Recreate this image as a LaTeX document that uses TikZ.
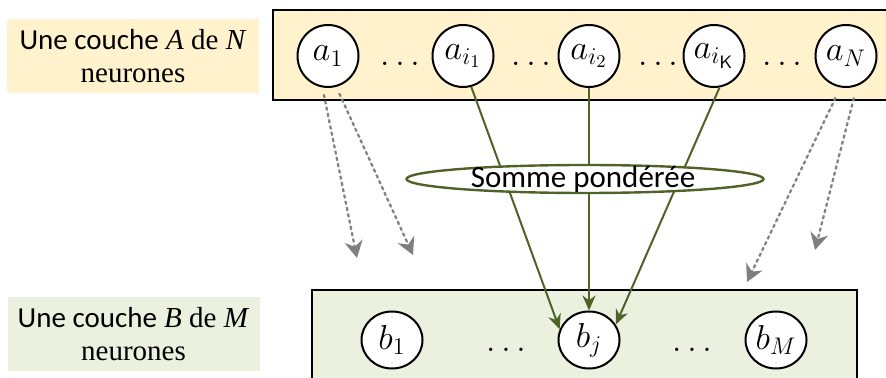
\documentclass[tikz,border=0pt]{standalone}
\usepackage{fontspec}
\setmainfont{Liberation Serif}
\newfontfamily\calfont{Carlito}
\usetikzlibrary{arrows.meta,shapes,calc}
\definecolor{jaunecouche}{HTML}{FFF2CC}
\definecolor{vertcouche}{HTML}{EBF1DE}
\definecolor{vertolive}{HTML}{4F6228}
\definecolor{grisfleche}{HTML}{7F7F7F}
\DeclareMathSizes{17.5}{17.5}{13}{9}

\begin{document}
\begin{tikzpicture}[x=0.5pt, y=-0.5pt,
	neurone/.style={ellipse, draw, line width=1pt, fill=white, minimum width=30.5pt, minimum height=31pt, inner sep=0pt, font=\fontsize{17.5}{20}\selectfont},
	points/.style={inner sep=0pt, font=\fontsize{16}{18}\selectfont},
	legende/.style={align=center, inner sep=0pt, minimum width=126pt, minimum height=37pt, font=\fontsize{14.5}{16.5}\selectfont},
	poids/.style={-{Stealth[length=7.5pt,width=6.5pt]}, draw=vertolive, fill=vertolive, line width=1pt},
	autre/.style={-{Stealth[length=8.5pt,width=9pt]}, draw=grisfleche, fill=grisfleche, line width=1.1pt, dash pattern=on 1.8pt off 1.4pt}]
		\useasboundingbox (0,0) rectangle (886,378);
		\draw[fill=jaunecouche, line width=1pt] (273,10) rectangle (900,100);
		\draw[fill=vertcouche, line width=1pt] (312,290) rectangle (857,400);

		\path (133,56) node[legende, fill=jaunecouche] (legA) {{\calfont Une couche} \textit{A} de \textit{N}\\neurones}
		(133.5,334) node[legende, fill=vertcouche] (legB) {{\calfont Une couche} \textit{B} de \textit{M}\\neurones}
		(328,56) node[neurone] (a1) {$a_1$}
		(463,56) node[neurone] (ai1) {$a_{i_1}$}
		(589,56) node[neurone] (ai2) {$a_{i_2}$}
		(714,56) node[neurone] (aik) {$a_{i_{\mathsf{K}}}$}
		(846,56) node[neurone] (an) {$a_N$}
		(400,64) node[points] (p1) {$\dots$}
		(531,64) node[points] (p2) {$\dots$}
		(658,64) node[points] (p3) {$\dots$}
		(782,64) node[points] (p4) {$\dots$}
		(392,340) node[neurone, minimum height=28.5pt] (b1) {$b_1$}
		(589,340) node[neurone, minimum height=28.5pt] (bj) {$b_j$}
		(776,340) node[neurone, minimum height=28.5pt] (bm) {$b_M$}
		(506,350) node[points] (q1) {$\dots$}
		(692,350) node[points] (q2) {$\dots$};

		\draw[poids] (ai1.-75) -- (bj.160);
		\draw[poids] (ai2) -- (bj);
		\draw[poids] (aik.-80) -- (bj.30);

		\path (585,179) node[ellipse, draw=vertolive, line width=1.2pt, fill=white, minimum width=178.5pt, minimum height=14pt, inner sep=0pt] (somme) {}
		(583,188) node[anchor=base, inner sep=0pt, font=\calfont\fontsize{15.5}{18}\selectfont] (sommetxt) {Somme pondérée};

		\coordinate (f1) at (357,258);
		\coordinate (f2) at (413,255);
		\coordinate (f3) at (747,282);
		\coordinate (f4) at (815,250);
		\draw[autre, shorten <=3.5pt] (a1.-100) -- (f1);
		\draw[autre, shorten <=3.5pt] (a1.-75) -- (f2);
		\draw[autre, shorten <=5.5pt] (an.-100) -- (f3);
		\draw[autre, shorten <=6pt] (an.-70) -- (f4);
	\end{tikzpicture}
\end{document}
